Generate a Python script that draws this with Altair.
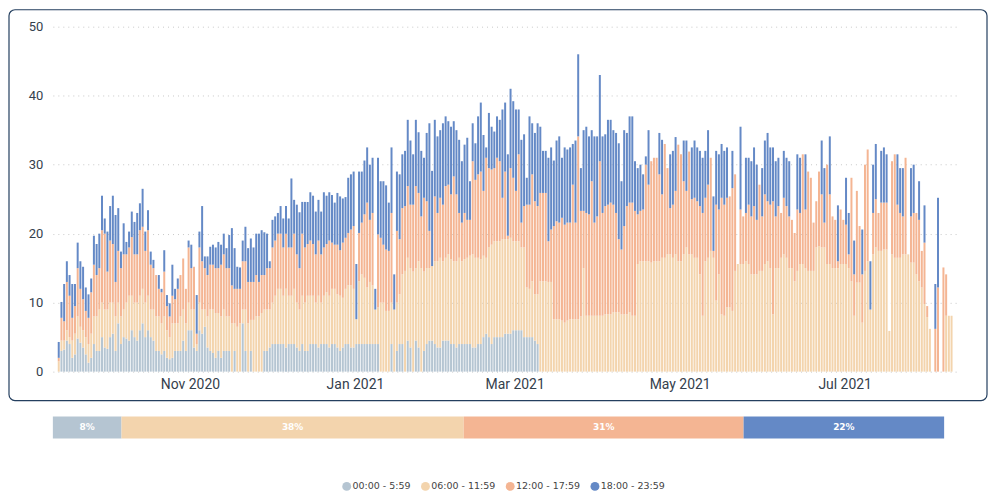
import altair as alt
import pandas as pd
import numpy as np

periods = ["00:00 - 5:59", "06:00 - 11:59", "12:00 - 17:59", "18:00 - 23:59"]
colors = ["#B5C5D2", "#F3D4AD", "#F4B593", "#6489C6"]

first_day = "2020-09-13"

# cumulative tops of each stacked band (one value per day)
top_night = [
    0, 3, 3.2, 4.5, 4, 2, 2.5, 4.8, 4.2, 3.5,
    2.5, 1.3, 2, 4, 3, 3, 5, 3.5, 3.3, 5,
    5.5, 3, 7, 4, 5, 4.8, 4.5, 6, 5, 4.5,
    6, 7, 5, 6, 5, 4.5, 3, 3, 2.5, 3,
    2, 1.8, 2, 3, 3, 3, 4.5, 3, 6, 6,
    3.5, 3, 6, 5.5, 6.5, 3.5, 3, 2.7, 2, 3,
    2, 3, 3, 3, 0, 3, 0, 0, 7, 3,
    0, 3, 0, 0, 0, 0, 3, 3, 3.5, 4,
    4, 4, 4, 4, 3.5, 4, 4, 4, 3.5, 3,
    4, 3, 3, 4, 4, 4, 3.5, 4, 4, 4,
    3.5, 4, 4, 3.5, 3, 3.5, 4, 4, 3.5, 3.5,
    4, 4, 4, 4, 4, 4, 4, 4, 4, 0,
    0, 0, 0, 4, 0, 3, 4, 4, 0, 4.5,
    3.5, 0, 4.5, 3.5, 0, 3, 4, 4.5, 4.5, 4,
    3.5, 3.5, 4.5, 4.5, 4.5, 4, 4, 3.5, 4, 4,
    4, 4, 4, 3.5, 3.5, 4, 4, 5, 5.5, 5,
    4, 5, 5, 5, 5, 5.5, 5.5, 5.5, 6, 6,
    6, 6, 5, 5, 5, 5, 4.5, 4, 0, 0,
] + [0] * 151

top_morning = [
    1.5, 4.5, 4.5, 6, 5, 4.5, 5.5, 8, 6.5, 6,
    5, 4, 5.5, 8, 8, 9, 10, 9, 9, 10,
    10, 8, 10, 8, 9, 10, 11, 11, 10, 10,
    11, 12, 10, 11, 9, 9, 8, 8, 7, 8,
    6, 5, 7, 7, 7, 8, 9, 7, 10, 9,
    9, 4, 10, 9, 9, 8, 9, 9, 8.5, 8.5,
    8, 9, 8, 8, 7, 7, 6.5, 7, 9, 9,
    7, 7.5, 7.5, 8, 8, 8.5, 9, 9, 9, 10,
    11, 12, 12, 11, 12, 11, 11, 12, 10, 9,
    11, 10, 11, 11, 11, 10, 11, 10, 11, 11.5,
    11, 12, 12, 11.2, 11, 10.7, 12, 12.5, 12.5, 12,
    7.6, 13.1, 14.1, 13.6, 12.2, 13, 12.5, 9, 9.3, 10,
    10, 8.8, 8.8, 10, 9, 10, 11.2, 14.1, 14.6, 16.5,
    15, 14.5, 15, 16, 15, 14.5, 15, 15, 15.3, 16,
    16, 16.5, 16, 16.5, 17, 16.3, 16, 16, 16.5, 16,
    16.3, 16.5, 16.8, 17, 16.5, 16.5, 16.3, 16.8, 16.5, 18,
    18.4, 18.9, 18.9, 18.9, 19.2, 19.2, 19.2, 19.4, 18.9, 18.9,
    18.9, 18, 18, 12.2, 12, 13.1, 11.2, 11.2, 13.1, 13.1,
    13.1, 13, 13, 7.6, 7.6, 7.6, 7.4, 7.1, 7.4, 7.6,
    7.6, 7.6, 7.6, 8, 15, 8.1, 8.1, 8.1, 8.1, 8.1,
    8.1, 8.1, 8.3, 8.3, 8.3, 8.6, 8.6, 8.6, 8.3, 8.3,
    8.3, 8.6, 8.1, 8.1, 15.6, 16, 16, 16, 16, 15.8,
    16, 16, 16, 16.5, 16.5, 17, 17, 16.5, 17, 16,
    16, 17, 18, 17, 17, 16.5, 16.5, 14.1, 8.1, 16,
    16.5, 17.5, 16.5, 10.3, 14.1, 8.3, 8.1, 9.3, 9.3, 8.8,
    14.6, 15.6, 15.6, 15.6, 16, 15.6, 14.1, 14.1, 14.1, 14.6,
    14.6, 15.6, 16, 15, 8.3, 15, 15, 16.5, 17, 16.5,
    15, 15, 13.1, 14.6, 15.6, 15.6, 15, 14.6, 14.6, 14.6,
    18, 18.2, 18, 18, 15.6, 15.6, 15, 15, 15, 15.6,
    15.6, 15.6, 15, 13.1, 8.1, 12.9, 12.9, 7.1, 14.6, 16,
    9, 17, 18, 17.5, 17.5, 17.7, 17.7, 5.9, 17, 16.5,
    16.5, 16.5, 17, 17, 17, 15.8, 15.8, 14.1, 13.1, 12.2,
    9.8, 7.9, 6.2, 0, 0, 0, 0, 0, 8.1, 8.1, 8.1,
]

top_afternoon = [
    2, 7.8, 7.3, 13, 11, 7.8, 9.5, 15, 12, 10.5,
    8.8, 7.8, 11.5, 15.5, 14, 15, 20.5, 20, 14.5, 19,
    18.5, 13, 17.5, 15, 17, 17, 18, 19.5, 17, 17,
    20.5, 21, 17.5, 20.5, 15.5, 15, 14, 12, 11.5, 14.5,
    9.5, 8, 11, 10.5, 12, 14, 16.4, 12, 18, 15,
    15.2, 5.5, 18, 16, 15, 14, 15.5, 15.5, 15, 15,
    15.5, 17, 15, 15, 12.5, 12, 12, 12, 16, 16,
    13, 13, 13, 14, 13, 14, 14, 15, 15, 18,
    19, 20, 20, 18, 20, 18, 18, 20, 17, 15,
    20, 18, 18.5, 19, 18.5, 17, 19, 17, 18, 18.5,
    19, 18.7, 18.4, 18.4, 17.6, 18.7, 19.4, 20.1, 20.6, 21.1,
    7.6, 20.1, 21.6, 22.8, 24.5, 22, 23, 9, 19.9, 19.4,
    18.4, 17.7, 17.5, 23, 9, 20.4, 19.2, 23.7, 24, 26.9,
    24.2, 24.2, 26.9, 25.9, 22.5, 25.2, 24.7, 20.4, 15.3, 25.4,
    23, 25.2, 24.2, 26.9, 27.1, 25.7, 28.3, 25.7, 23, 21.6,
    23, 22, 22, 30.5, 27.8, 28.6, 29, 26.2, 31, 29.5,
    29.3, 29.5, 31, 30.5, 25.2, 29, 19.7, 29.5, 28.1, 26.2,
    31.5, 21.6, 24, 24.2, 24.2, 28.6, 24.7, 24, 25.9, 25.9,
    25.9, 18.9, 20.6, 21.1, 21.8, 21.6, 22.3, 21.3, 21.6, 21.6,
    27.1, 21.6, 34.1, 23.3, 23.3, 23, 22.8, 27.6, 21.6, 22.5,
    30.5, 23, 24, 24.2, 24.5, 24.2, 23, 19.2, 17.7, 21.1,
    24, 24.5, 24.5, 23.3, 22.8, 23.3, 23.5, 30, 27.1, 30.5,
    31, 31, 28.6, 25.7, 33, 29.5, 23.7, 24.2, 26.2, 32.9,
    31.5, 27.6, 26.2, 31.9, 25, 25.2, 24.7, 24, 23, 25.2,
    27.1, 31, 17.5, 24.2, 23.5, 25.2, 24.2, 25.2, 25.4, 26.6,
    28.6, 15.6, 23.5, 22.5, 23, 24.2, 22.5, 24, 22, 27.1,
    22.5, 25.7, 24.7, 24.2, 24.7, 22.5, 24, 23, 25.2, 24,
    22.5, 22, 20.1, 23.5, 23, 31.5, 23.5, 29, 28.1, 21.6,
    24.7, 29, 25.7, 21.6, 30, 25.7, 22.5, 22, 16, 23.5,
    22, 21.3, 17, 28.1, 14.1, 26.2, 21.1, 14.1, 30, 32.2,
    9, 23, 25, 23, 24.5, 24.5, 24.5, 5.9, 30.5, 31.5,
    24.2, 23, 22.5, 31, 17, 22.5, 23, 23, 22, 17.5,
    18.7, 9.5, 6.2, 0, 6.2, 12.2, 0, 15.1, 14.1, 8.1, 8.1,
]

top_evening = [
    4.3, 10.1, 12.7, 16, 14, 12.7, 12.7, 18.7, 16, 15.2,
    12.2, 11.2, 13.5, 19.7, 18.5, 20, 25.5, 22.2, 20.3, 24,
    25.5, 22.7, 23.7, 17.4, 21.5, 18.8, 20.3, 23.2, 21.7, 23,
    24.4, 26.5, 20.3, 23.4, 17.4, 16.2, 14, 14, 12, 17.6,
    11.1, 9.9, 15.5, 12, 13.5, 14, 16.4, 12, 19, 18.4,
    15.2, 11.1, 20.3, 24, 16.7, 16.7, 18.1, 18.4, 18, 18.8,
    18.4, 20, 17.9, 19.8, 20.8, 17.9, 15.2, 15.1, 19, 21,
    17.9, 19.3, 18, 20, 20, 20.5, 20.2, 20, 16, 22,
    22.5, 23, 24, 22.2, 24, 22.2, 28, 24.9, 24.2, 23.1,
    24.6, 24.6, 24.6, 26, 25.5, 23.2, 24.9, 23.2, 26, 25.5,
    26, 25.6, 24.5, 25.9, 25.4, 25.1, 25.3, 28.1, 28.6, 29,
    15.6, 29, 29, 30.6, 32.5, 30, 31, 12, 31, 27.6,
    27.6, 27, 24.5, 32.5, 14.1, 29, 28.6, 31.5, 32, 36.5,
    33.5, 31.5, 36.5, 34.7, 32, 31, 34.6, 36, 29.1, 36.5,
    34.1, 35, 36, 37, 36.3, 35.5, 36.3, 35, 33.6, 30.5,
    32.9, 33.9, 27.6, 36, 33.1, 37, 39, 34.3, 32.5, 37.5,
    35.5, 34.8, 37, 36.5, 38, 39, 31.5, 41, 39.2, 38,
    38, 33.6, 34.4, 28.1, 37, 36, 34.6, 36, 35.5, 32,
    32, 31, 32.5, 30.6, 33.5, 34.1, 31, 32.5, 32.2, 32.5,
    33, 33.5, 46, 29.5, 35, 35.5, 34.1, 35, 34.1, 34.1,
    43, 34.1, 34.4, 36.5, 36.5, 35, 34.6, 33.1, 27.6, 35,
    34.6, 37, 37, 30.5, 29.5, 30, 28.6, 31.2, 35, 30.5,
    31, 31, 34.6, 33.6, 33, 29.5, 31.5, 32, 34, 32.9,
    31.5, 33.5, 33.5, 31.9, 32.5, 33.5, 32.5, 32, 31, 32,
    35, 31, 25.4, 32, 31.5, 33, 32, 32.5, 25.4, 32,
    28.6, 15.6, 35.5, 22.5, 31, 31, 30.5, 32.5, 30, 27.1,
    29.5, 33.5, 34.6, 32.5, 32.5, 30.5, 31, 23, 32, 31,
    30.5, 22, 20.1, 31.5, 31, 31.5, 31.5, 29, 28.1, 21.6,
    24.7, 29, 33.5, 29.5, 30, 34.1, 22.5, 22, 24.1, 23.5,
    22, 28.1, 23, 28.1, 19, 26.2, 21.1, 20.6, 30, 32.2,
    16, 30, 33, 23, 32, 32.5, 31.5, 5.9, 30.5, 31.5,
    31.5, 29.5, 29.5, 31, 17, 29.5, 30, 23, 27.6, 17.5,
    24.1, 9.5, 6.2, 0, 12.7, 25.2, 0, 15.1, 14.1, 8.1, 8.1,
]

# overall shares (summary strip)
share_values = [7.7, 38.4, 31.4, 22.5]
share_labels = ["8%", "38%", "31%", "22%"]

n = len(top_evening)
assert len(top_night) == n and len(top_morning) == n and len(top_afternoon) == n, (
    len(top_night), len(top_morning), len(top_afternoon), n)

tops = np.array([np.zeros(n), top_night, top_morning, top_afternoon, top_evening], dtype=float)
tops = np.maximum.accumulate(tops, axis=0)
segments = np.diff(tops, axis=0)

days = pd.date_range(first_day, periods=n, freq="D") + pd.Timedelta(hours=12)
rows = []
for k, p in enumerate(periods):
    for d, v in zip(days, segments[k]):
        rows.append({"date": d.strftime("%Y-%m-%dT%H:%M:%S"), "period": p, "value": round(float(v), 2), "k": k})
df = pd.DataFrame(rows)

W, H = 908, 346
PX_PER_DAY = 2.744
dom_start = pd.Timestamp(first_day) + pd.Timedelta(hours=12) - pd.Timedelta(days=0.9 / PX_PER_DAY)
dom_end = dom_start + pd.Timedelta(days=W / PX_PER_DAY)


def dt(ts):
    return alt.DateTime(year=ts.year, month=ts.month, date=ts.day, hours=ts.hour, minutes=ts.minute)


tick_dates = [alt.DateTime(year=2020, month=11, date=1), alt.DateTime(year=2021, month=1, date=1),
              alt.DateTime(year=2021, month=3, date=1), alt.DateTime(year=2021, month=5, date=1),
              alt.DateTime(year=2021, month=7, date=1)]

FONT = "Roboto"
SMALL = "DejaVu Sans"
LABEL_COLOR = "#34404c"
color_scale = alt.Scale(domain=periods, range=colors)

bars = alt.Chart(df).mark_bar(width=2).encode(
    x=alt.X("date:T", scale=alt.Scale(domain=[dt(dom_start), dt(dom_end)]),
            axis=alt.Axis(values=tick_dates, format="%b %Y", title=None, grid=False, ticks=False,
                          domain=False, labelFont=FONT, labelFontSize=14, labelColor=LABEL_COLOR,
                          labelPadding=6)),
    y=alt.Y("value:Q", stack="zero", scale=alt.Scale(domain=[0, 50], nice=False),
            axis=alt.Axis(values=[0, 10, 20, 30, 40, 50], title=None, grid=True, gridDash=[1, 4],
                          gridColor="#c8c8c8", ticks=False, domain=False, labelFont=FONT,
                          labelFontSize=13, labelColor=LABEL_COLOR, labelPadding=10)),
    color=alt.Color("period:N", scale=color_scale, sort=periods,
                    legend=alt.Legend(title=None, orient="none", direction="horizontal",
                                      legendX=290, legendY=456, symbolType="circle",
                                      symbolSize=80, symbolStrokeWidth=0, labelFont=SMALL,
                                      labelFontSize=9.5, labelColor="#444", columnPadding=10,
                                      labelOffset=1, padding=0)),
    order=alt.Order("k:Q"),
)

frame = alt.Chart(pd.DataFrame({"f": [0]})).mark_rect(
    fillOpacity=0, stroke="#243f5f", strokeWidth=1.2, cornerRadius=6
).encode(x=alt.value(-44), x2=alt.value(W + 29), y=alt.value(-17), y2=alt.value(H + 29))

main = alt.layer(frame, bars).properties(width=W, height=H)

sdf = pd.DataFrame({"period": periods, "share": share_values, "label": share_labels,
                    "k": [0, 1, 2, 3], "row": ["all"] * 4})
strip_base = alt.Chart(sdf).transform_stack(
    stack="share", groupby=["row"], as_=["s0", "s1"], sort=[alt.SortField("k")]
).transform_calculate(mid="(datum.s0 + datum.s1) / 2")
xs = alt.Scale(domain=[0, 100], nice=False, zero=True)
ys = alt.Scale(paddingInner=0, paddingOuter=0)
strip = strip_base.mark_bar().encode(
    x=alt.X("s0:Q", scale=xs, axis=None),
    x2="s1:Q",
    y=alt.Y("row:N", scale=ys, axis=None),
    color=alt.Color("period:N", scale=color_scale, legend=None),
)
strip_text = strip_base.mark_text(
    color="white", fontWeight="bold", fontSize=9, font=SMALL
).encode(x=alt.X("mid:Q", scale=xs, axis=None),
         y=alt.Y("row:N", scale=ys, axis=None),
         text="label:N")
summary = alt.layer(strip, strip_text).properties(width=894, height=22)

chart = alt.vconcat(main, summary, spacing=15).properties(
    padding={"left": 0, "top": 0, "right": 0, "bottom": 0}
).configure(background="white").configure_view(stroke="transparent", strokeWidth=0)

chart.save("out.html", embed_options={"renderer": "svg", "actions": False})
